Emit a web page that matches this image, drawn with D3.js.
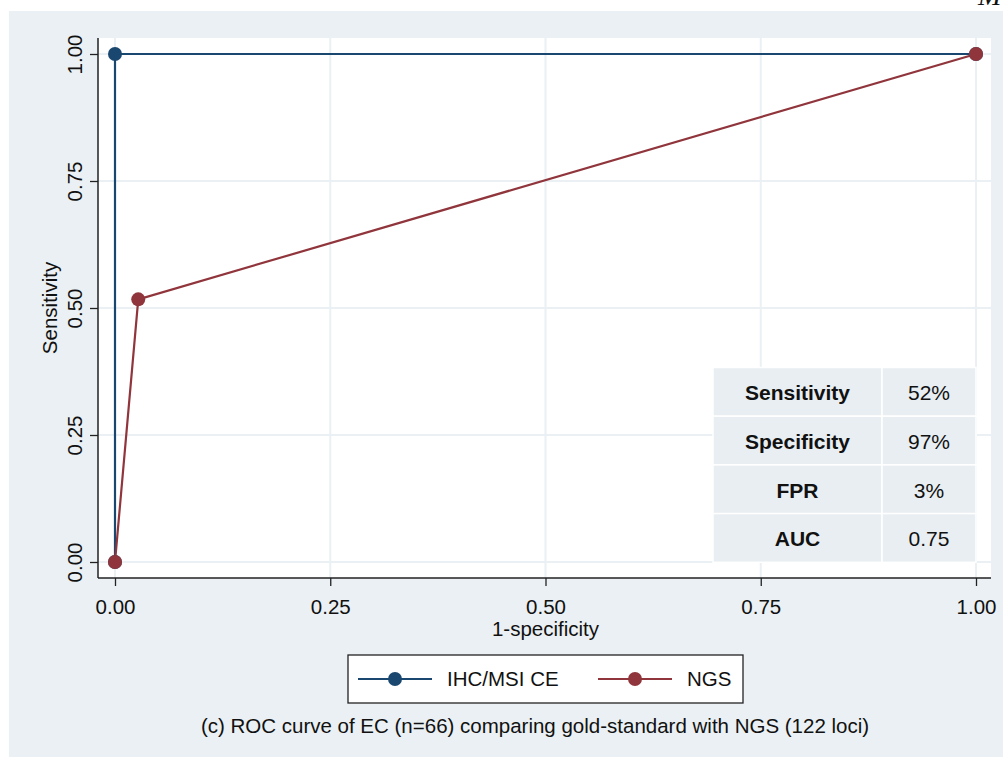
<!DOCTYPE html>
<html>
<head>
<meta charset="utf-8">
<script src="https://cdn.jsdelivr.net/npm/d3@7"></script>
<style>
body { margin: 0; background: #fff; }
text { font-family: Arial, "Liberation Sans", sans-serif; fill: #111; }
</style>
</head>
<body>
<script>
// data
const ihcX = [0, 0, 1];
const ihcY = [0, 1, 1];
const ngsX = [0, 0.027, 1];
const ngsY = [0, 0.517, 1];
const tickVals = [0, 0.25, 0.5, 0.75, 1];
const tableRows = ["Sensitivity", "Specificity", "FPR", "AUC"];
const tableVals = ["52%", "97%", "3%", "0.75"];
const seriesNames = ["IHC/MSI CE", "NGS"];
const seriesColors = ["#1a476f", "#90353b"];

const W = 1003, H = 760;
const bg = "#eaf0f3";
const fs = 20.5;

const svg = d3.select("body").append("svg")
    .attr("width", W).attr("height", H);

svg.append("rect").attr("x", 9).attr("y", 11).attr("width", W - 9).attr("height", H - 11 - 3)
    .attr("fill", bg);

// clipped stray letter at top-right
svg.append("text").attr("x", 978).attr("y", 5)
    .style("font-family", "'Liberation Serif', serif").style("font-style", "italic")
    .attr("font-size", 28).text("M");

// plot region
const plot = { left: 98, right: 991, top: 38, bottom: 578 };
svg.append("rect").attr("x", plot.left).attr("y", plot.top)
    .attr("width", plot.right - plot.left).attr("height", plot.bottom - plot.top)
    .attr("fill", "#fff");

const x = d3.scaleLinear().domain([0, 1]).range([115, 976]);
const y = d3.scaleLinear().domain([0, 1]).range([562, 54]);

// grid
const grid = svg.append("g");
grid.selectAll(".gx").data(tickVals).join("line")
    .attr("x1", d => x(d)).attr("x2", d => x(d))
    .attr("y1", plot.top).attr("y2", plot.bottom)
    .attr("stroke", bg).attr("stroke-width", 2);
grid.selectAll(".gy").data(tickVals).join("line")
    .attr("y1", d => y(d)).attr("y2", d => y(d))
    .attr("x1", plot.left).attr("x2", plot.right)
    .attr("stroke", bg).attr("stroke-width", 2);

// axes
const xAxis = d3.axisBottom(x).tickValues(tickVals).tickFormat(d3.format(".2f"))
    .tickSize(8).tickPadding(6);
const xg = svg.append("g").attr("transform", `translate(0,${plot.bottom})`).call(xAxis);
xg.select(".domain").remove();
xg.append("line").attr("x1", plot.left).attr("x2", plot.right).attr("stroke", "#222").attr("stroke-width", 1.5);
xg.selectAll(".tick line").attr("stroke", "#222").attr("stroke-width", 1.3);
xg.selectAll(".tick text").attr("font-size", fs).attr("dy", null).attr("y", 36)
    .style("font-family", "Arial, 'Liberation Sans', sans-serif").attr("fill", "#111");

const yAxis = d3.axisLeft(y).tickValues(tickVals).tickFormat(d3.format(".2f"))
    .tickSize(8).tickPadding(4);
const yg = svg.append("g").attr("transform", `translate(${plot.left},0)`).call(yAxis);
yg.select(".domain").remove();
yg.append("line").attr("y1", plot.top).attr("y2", plot.bottom).attr("stroke", "#222").attr("stroke-width", 1.5);
yg.selectAll(".tick line").attr("stroke", "#222").attr("stroke-width", 1.3);
yg.selectAll(".tick text")
    .attr("font-size", fs).style("font-family", "Arial, 'Liberation Sans', sans-serif").attr("fill", "#111")
    .attr("x", null).attr("dy", null).attr("text-anchor", "middle")
    .attr("transform", "translate(-16,0) rotate(-90)");

// axis titles
svg.append("text").attr("x", x(0.5)).attr("y", 636).attr("text-anchor", "middle")
    .attr("font-size", fs).text("1-specificity");
svg.append("text").attr("transform", `translate(57,${y(0.5)}) rotate(-90)`)
    .attr("text-anchor", "middle").attr("font-size", fs).text("Sensitivity");

// series
const series = [
    { x: ihcX, y: ihcY, color: seriesColors[0] },
    { x: ngsX, y: ngsY, color: seriesColors[1] }
];
const line = d3.line().x(d => x(d[0])).y(d => y(d[1]));
series.forEach(s => {
    const pts = s.x.map((v, i) => [v, s.y[i]]);
    svg.append("path").datum(pts).attr("d", line)
        .attr("fill", "none").attr("stroke", s.color).attr("stroke-width", 2.2);
});
series.forEach(s => {
    const pts = s.x.map((v, i) => [v, s.y[i]]);
    svg.selectAll(null).data(pts).join("circle")
        .attr("cx", d => x(d[0])).attr("cy", d => y(d[1])).attr("r", 7)
        .attr("fill", s.color);
});

// table
const tbl = svg.append("g");
const tX = [713, 882, 976], rowH = 48.7, tTop = 367.5;
tableRows.forEach((r, i) => {
    for (let c = 0; c < 2; c++) {
        tbl.append("rect").attr("x", tX[c]).attr("y", tTop + i * rowH)
            .attr("width", tX[c + 1] - tX[c]).attr("height", rowH)
            .attr("fill", "#e8eef1").attr("stroke", "#fff").attr("stroke-width", 1.5);
    }
    tbl.append("text").attr("x", (tX[0] + tX[1]) / 2).attr("y", tTop + i * rowH + rowH / 2)
        .attr("dy", "0.4em").attr("text-anchor", "middle").attr("font-size", 21)
        .attr("font-weight", "bold").text(r);
    tbl.append("text").attr("x", (tX[1] + tX[2]) / 2).attr("y", tTop + i * rowH + rowH / 2)
        .attr("dy", "0.4em").attr("text-anchor", "middle").attr("font-size", 21)
        .text(tableVals[i]);
});

// legend
const lg = svg.append("g");
lg.append("rect").attr("x", 348).attr("y", 655).attr("width", 395).attr("height", 48)
    .attr("fill", "#fff").attr("stroke", "#222").attr("stroke-width", 1.3);
const legX = [358, 598];
seriesNames.forEach((n, i) => {
    lg.append("line").attr("x1", legX[i]).attr("x2", legX[i] + 74)
        .attr("y1", 679).attr("y2", 679).attr("stroke", seriesColors[i]).attr("stroke-width", 2.2);
    lg.append("circle").attr("cx", legX[i] + 37).attr("cy", 679).attr("r", 7).attr("fill", seriesColors[i]);
    lg.append("text").attr("x", legX[i] + 89).attr("y", 686)
        .attr("font-size", fs).text(n);
});

// caption
svg.append("text").attr("x", 535).attr("y", 733).attr("text-anchor", "middle")
    .attr("font-size", fs).text("(c) ROC curve of EC (n=66) comparing gold-standard with NGS (122 loci)");
</script>
</body>
</html>
